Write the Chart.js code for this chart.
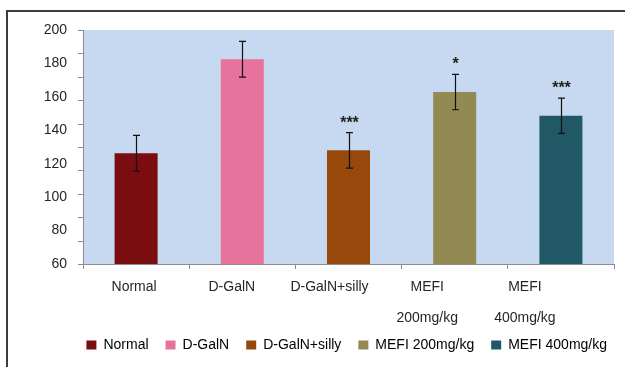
<!DOCTYPE html>
<html>
<head>
<meta charset="utf-8">
<script src="https://cdn.jsdelivr.net/npm/chart.js@4/dist/chart.umd.min.js"></script>
<style>
  body { margin: 0; background: #fff; }
  #marco { position: absolute; left: 6px; top: 10px; width: 640px; height: 380px;
           border-top: 2px solid #3c3c3c; border-left: 2px solid #3c3c3c; }
  #caja { position: absolute; left: 0; top: 0; width: 625px; height: 367px; }
</style>
</head>
<body>
<div id="marco"></div>
<div id="caja"><canvas id="plot1"></canvas></div>
<script>
// grupos del ensayo
const categorias = ['Normal', 'D-GalN', 'D-GalN+silly', 'MEFI 200mg/kg', 'MEFI 400mg/kg'];
const etiquetasEje = [['Normal'], ['D-GalN'], ['D-GalN+silly'], ['MEFI', '', '200mg/kg'], ['MEFI', '', '400mg/kg']];
const medias = [126.2, 182.5, 128, 162.9, 148.7];
const errores = [10.7, 10.7, 10.6, 10.6, 10.5];
const significancia = ['', '', '***', '*', '***'];
const colores = ['#7a0d10', '#e7729b', '#98480a', '#938953', '#215866'];
const ticksY = [60, 80, 100, 120, 140, 160, 180, 200];

const fuente = '"Liberation Sans", Arial, sans-serif';

/* fondo azul del area de la grafica */
const fondoArea = {
    id: 'fondoArea',
    beforeDraw(chart) {
        const { ctx, chartArea: a } = chart;
        ctx.save();
        ctx.fillStyle = '#c6d9f0';
        ctx.fillRect(a.left, a.top, a.right - a.left, a.bottom - a.top);
        ctx.restore();
    }
};

/* barras de error, asteriscos, marcas del eje y y etiquetas del eje x */
const extras = {
    id: 'extras',
    afterDatasetsDraw(chart) {
        const { ctx, scales } = chart;
        const x = scales.x, y = scales.y;
        ctx.save();

        // marcas del eje y (10 divisiones)
        ctx.strokeStyle = '#8c8c8c';
        ctx.lineWidth = 1;
        for (let k = 0; k <= 10; k++) {
            const py = Math.round(y.getPixelForValue(60 + 14 * k)) + 0.5;
            ctx.beginPath();
            ctx.moveTo(y.right - 5, py);
            ctx.lineTo(y.right, py);
            ctx.stroke();
        }

        for (let i = 0; i < medias.length; i++) {
            const cx = Math.round(x.getPixelForValue(i)) + 0.5;
            const arriba = y.getPixelForValue(medias[i] + errores[i]);
            const abajo = y.getPixelForValue(medias[i] - errores[i]);
            ctx.strokeStyle = '#111';
            ctx.lineWidth = 1.2;
            ctx.beginPath();
            ctx.moveTo(cx, arriba); ctx.lineTo(cx, abajo);
            ctx.moveTo(cx - 3.5, arriba); ctx.lineTo(cx + 3.5, arriba);
            ctx.moveTo(cx - 3.5, abajo); ctx.lineTo(cx + 3.5, abajo);
            ctx.stroke();

            if (significancia[i]) {
                ctx.fillStyle = '#222';
                ctx.font = 'bold 16px ' + fuente;
                ctx.textAlign = 'center';
                ctx.textBaseline = 'alphabetic';
                ctx.fillText(significancia[i], cx, arriba - 5);
            }
        }

        // etiquetas del eje x (quedan algo corridas a la izquierda como en el original)
        const paso = (x.getPixelForValue(1) - x.getPixelForValue(0)) * 0.92;
        ctx.fillStyle = '#262626';
        ctx.font = '14px ' + fuente;
        ctx.textAlign = 'center';
        ctx.textBaseline = 'middle';
        for (let i = 0; i < etiquetasEje.length; i++) {
            const lx = x.getPixelForValue(0) - 2 + i * paso;
            etiquetasEje[i].forEach((linea, j) => {
                ctx.fillText(linea, lx, x.top + 23 + j * 15.5);
            });
        }
        ctx.restore();
    }
};

let ctx = document.getElementById('plot1').getContext('2d');

let grafica1 = new Chart(ctx, {
    type: 'bar',
    data: {
        labels: categorias,
        datasets: [{
            data: medias,
            backgroundColor: colores,
            borderWidth: 0,
            barPercentage: 0.405,
            categoryPercentage: 1
        }]
    },
    options: {
        responsive: true,
        maintainAspectRatio: false,
        animation: false,
        layout: { padding: { top: 30, right: 1, bottom: 5, left: 40 } },
        plugins: {
            tooltip: { enabled: false },
            legend: {
                position: 'bottom',
                align: 'end',
                labels: {
                    boxWidth: 10,
                    boxHeight: 9,
                    padding: 17,
                    color: '#262626',
                    font: { family: fuente, size: 14 },
                    generateLabels: () => categorias.map((c, i) => ({
                        text: c,
                        fillStyle: colores[i],
                        strokeStyle: colores[i],
                        lineWidth: 0,
                        hidden: false,
                        index: i
                    }))
                }
            }
        },
        scales: {
            x: {
                offset: true,
                grid: { offset: true, drawOnChartArea: false, drawTicks: true, tickLength: 5, color: '#8c8c8c' },
                border: { color: '#8c8c8c' },
                ticks: { display: false },
                afterFit: (s) => { s.height = 57; }
            },
            y: {
                min: 60,
                max: 200,
                afterBuildTicks: (s) => { s.ticks = ticksY.map(v => ({ value: v })); },
                grid: { display: false, drawTicks: false },
                border: { color: '#8c8c8c' },
                ticks: {
                    padding: 16,
                    color: '#262626',
                    font: { family: fuente, size: 14 }
                },
                afterFit: (s) => { s.width = 43; }
            },
            // eje vacio a la derecha, solo reserva el margen
            margen: {
                position: 'right',
                min: 0,
                max: 1,
                grid: { display: false, drawTicks: false },
                border: { display: false },
                ticks: { display: false },
                afterFit: (s) => { s.width = 10; }
            }
        }
    },
    plugins: [fondoArea, extras]
});
</script>
</body>
</html>
